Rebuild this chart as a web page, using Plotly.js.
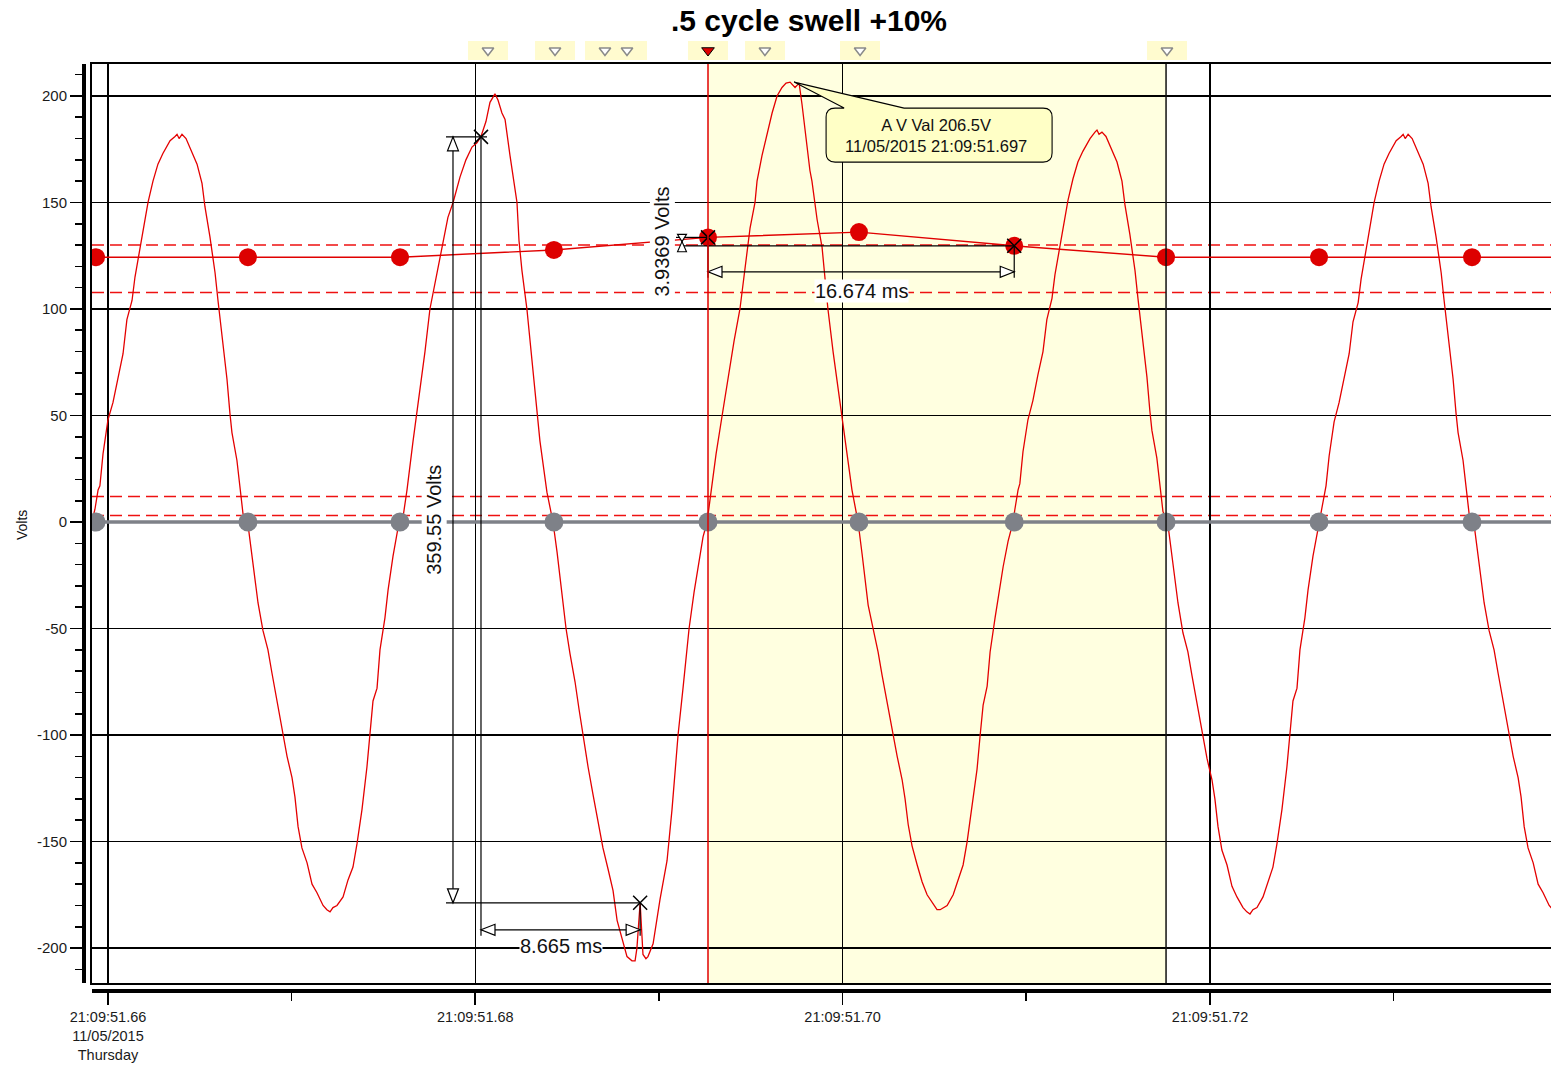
<!DOCTYPE html>
<html>
<head>
<meta charset="utf-8">
<script src="https://cdn.plot.ly/plotly-3.0.1.min.js"></script>
<style>
  html, body { margin: 0; padding: 0; background: #ffffff; }
  #chart { width: 1551px; height: 1066px; }
</style>
</head>
<body>
<div id="chart"></div>
<script>
// ---- Waveform: phase A voltage, time in ms after 21:09:51 ----
const waveTime = [
  659.18, 659.29, 659.46, 659.56, 659.73, 660.00, 660.27, 660.54, 660.82, 661.03, 661.31, 661.47, 661.74, 661.91, 662.18, 662.45, 662.72, 662.99, 663.38, 663.65, 663.76, 663.87, 664.03, 664.25, 664.46, 664.85, 665.12, 665.28, 665.55, 665.83, 665.99, 666.21, 666.48, 666.64, 666.75, 667.02, 667.19, 667.35, 667.62,
  667.84, 668.00, 668.17, 668.44, 668.71, 668.93, 669.20, 669.47, 669.75, 670.02, 670.18, 670.35, 670.56, 670.84, 671.11, 671.38, 671.71, 671.92, 672.09, 672.25, 672.47, 672.80, 673.07, 673.34, 673.56, 673.83, 674.10, 674.27, 674.43, 674.65, 674.81, 675.08, 675.25, 675.52, 675.85,
  676.06, 676.28, 676.61, 676.88, 677.26, 677.53, 677.86, 678.19, 678.51, 678.79, 679.17, 679.49, 679.82, 680.09, 680.31, 680.58, 680.80, 681.07, 681.24, 681.45, 681.62, 681.89, 682.11, 682.27, 682.38, 682.54, 682.81, 683.09, 683.36, 683.52, 683.90, 684.23,
  684.45, 684.72, 684.94, 685.16, 685.43, 685.65, 685.86, 686.14, 686.41, 686.68, 686.95, 687.23, 687.50, 687.72, 687.99, 688.26, 688.53, 688.70, 688.80, 688.975, 689.13, 689.29, 689.40, 689.68, 690.06, 690.44, 690.71, 691.04, 691.31, 691.64, 691.91, 692.18, 692.40, 692.62,
  692.83, 693.11, 693.44, 693.76, 694.09, 694.41, 694.68, 694.96, 695.23, 695.34, 695.61, 695.88, 696.16, 696.43, 696.70, 696.92, 697.14, 697.41, 697.63, 697.79, 698.01, 698.22, 698.33, 698.61, 698.88, 699.20, 699.48, 699.75, 699.97, 700.24, 700.51, 700.84,
  701.06, 701.22, 701.39, 701.66, 701.93, 702.15, 702.42, 702.69, 702.97, 703.24, 703.40, 703.57, 703.78, 704.06, 704.33, 704.60, 704.93, 705.14, 705.31, 705.47, 705.69, 706.02, 706.29, 706.56, 706.78, 707.05, 707.32, 707.49, 707.65, 707.87, 708.03, 708.30, 708.47, 708.74, 709.01, 709.28,
  709.38, 709.55, 709.65, 709.82, 710.09, 710.36, 710.63, 710.91, 711.12, 711.40, 711.56, 711.83, 712.00, 712.27, 712.54, 712.81, 713.08, 713.47, 713.74, 713.85, 713.96, 714.12, 714.34, 714.55, 714.94, 715.21, 715.37, 715.64, 715.92, 716.08, 716.30, 716.57, 716.73, 716.84, 717.11, 717.28, 717.44, 717.71,
  717.93, 718.09, 718.26, 718.53, 718.80, 719.02, 719.29, 719.56, 719.84, 720.11, 720.27, 720.44, 720.65, 720.93, 721.20, 721.47, 721.80, 722.01, 722.18, 722.34, 722.56, 722.89, 723.16, 723.43, 723.65, 723.92, 724.19, 724.36, 724.52, 724.74, 724.90, 725.17, 725.34, 725.61, 725.94,
  726.05, 726.22, 726.32, 726.49, 726.76, 727.03, 727.30, 727.58, 727.79, 728.07, 728.23, 728.50, 728.67, 728.94, 729.21, 729.48, 729.75, 730.14, 730.41, 730.52, 730.63, 730.79, 731.01, 731.22, 731.61, 731.88, 732.04, 732.31, 732.59, 732.75, 732.97, 733.24, 733.40, 733.51, 733.78, 733.95, 734.11, 734.38,
  734.60, 734.76, 734.93, 735.20, 735.47, 735.69, 735.96, 736.23, 736.51, 736.78, 736.94, 737.11, 737.32, 737.60, 737.87, 738.14, 738.47, 738.68
];
const waveVolts = [
  2, 6, 15, 17, 32, 48, 56, 68, 79, 95, 104, 115, 129, 137, 150, 160, 168, 173, 179, 181, 182, 180, 182, 180, 176, 168, 159, 148, 134, 117, 104, 87, 67, 51, 42, 29, 16, 4, -1,
  -16, -27, -38, -51, -60, -71, -84, -98, -110, -120, -129, -143, -153, -160, -170, -174, -180, -182, -183, -181, -180, -176, -168, -162, -151, -135, -115, -99, -84, -78, -60, -45, -32, -16, 0,
  2, 15, 38, 55, 80, 100, 115, 130, 143, 150, 162, 170, 176, 178, 181, 188, 197, 201, 198, 192, 189, 172, 160, 150, 132, 118, 100, 75, 50, 38, 14, 0,
  -14, -35, -50, -62, -75, -88, -100, -115, -128, -140, -153, -163, -173, -187, -195, -204, -206, -206, -200, -178.75, -203, -205, -204, -198, -177, -159, -135, -100, -78, -50, -33, -18, -7, 0,
  14, 32, 50, 68, 85, 100, 118, 138, 150, 160, 172, 182, 192, 200, 204, 206, 206.5, 204, 206, 196, 180, 165, 160, 142, 129, 100, 80, 62, 50, 32, 15, 0,
  -15, -26, -39, -50, -61, -72, -85, -97, -110, -121, -130, -142, -152, -161, -169, -175, -179, -182, -182, -181, -180, -175, -168, -161, -150, -134, -116, -100, -86, -77, -61, -45, -35, -21, -9, 0,
  6, 15, 18, 33, 48, 57, 69, 80, 95, 105, 116, 130, 138, 151, 161, 169, 174, 180, 183, 184, 182, 183, 181, 177, 169, 160, 149, 135, 118, 105, 88, 68, 52, 43, 30, 17, 5, -1,
  -16, -28, -38, -52, -61, -72, -85, -98, -111, -121, -130, -143, -154, -161, -171, -176, -181, -183, -184, -182, -181, -176, -169, -162, -151, -135, -115, -99, -84, -78, -60, -45, -32, -16, 0,
  5, 14, 17, 31, 47, 56, 67, 79, 94, 103, 114, 128, 137, 150, 160, 168, 173, 179, 181, 182, 180, 182, 180, 176, 168, 159, 148, 134, 117, 104, 87, 67, 51, 42, 29, 16, 4, -1,
  -16, -27, -38, -51, -60, -71, -84, -98, -110, -120, -129, -143, -153, -160, -170, -174, -180, -182
];

// ---- Half-cycle RMS values, plotted at each zero crossing ----
const crossTimes = [659.35, 667.62, 675.90, 684.28, 692.67, 700.89, 709.344, 717.61, 725.94, 734.27, 742.60];
const rmsVolts   = [124.3, 124.3, 124.3, 127.7, 133.6, 136.1, 129.6631, 124.3, 124.3, 124.3, 124.3];
const zeroVolts  = [0, 0, 0, 0, 0, 0, 0, 0, 0, 0, 0];

// ---- Event limits (V) ----
const limitLevels = [130.0, 107.7, 12.0, 3.0];

// ---- Event markers along the top, cursor and highlighted event window ----
const eventTimes = [680.69, 684.34, 687.06, 688.26, 695.77, 700.95, 717.66];
const cursorTime = 692.67;
const eventWindow = [692.67, 717.61];

// ---- Measurement cursors ----
const measA = { t: 680.31, v: 180.8 };
const measB = { t: 688.975, v: -178.75 };
const measC = { t: 692.67, v: 133.6 };
const measD = { t: 709.344, v: 129.6631 };

// ---- Axis ticks ----
const tickTimes = [660, 680, 700, 720];
const tickLabels = ['21:09:51.66<br>11/05/2015<br>Thursday', '21:09:51.68', '21:09:51.70', '21:09:51.72'];
const minorTickTimes = [670, 690, 710, 730];
const voltTicks = [-200, -150, -100, -50, 0, 50, 100, 150, 200];
const voltTickLabels = ['-200', '-150', '-100', '-50', '0', '50', '100', '150', '200'];

// ---- Geometry helpers ----
const W = 1551, H = 1066;
const PL = 92, PR = 1551, PT = 64, PB = 983;
const T_RANGE = [659.13, 738.57];
const V_RANGE = [-216.4, 215.0];
const MS_PER_PX = (T_RANGE[1] - T_RANGE[0]) / (PR - PL);
const V_PER_PX = (V_RANGE[1] - V_RANGE[0]) / (PB - PT);
const FONT = 'Liberation Sans, Arial, Helvetica, sans-serif';

// offset a data point by screen pixels (dy positive = downward)
function off(t, v, dx, dy) { return [t + dx * MS_PER_PX, v - dy * V_PER_PX]; }
function pathOf(pts, close) {
  return pts.map((p, i) => (i ? 'L' : 'M') + p[0] + ',' + p[1]).join(' ') + (close ? ' Z' : '');
}
const shapes = [];
function seg(t0, v0, t1, v1, color, width) {
  shapes.push({ type: 'line', xref: 'x', yref: 'y', x0: t0, y0: v0, x1: t1, y1: v1,
    line: { color: color || '#000', width: width || 1.2 }, layer: 'above' });
}
function arrowHead(t, v, dir, len, half) {
  len = len || 14; half = half || 5.5;
  let pts;
  if (dir === 'up') pts = [[t, v], off(t, v, -half, len), off(t, v, half, len)];
  else if (dir === 'down') pts = [[t, v], off(t, v, -half, -len), off(t, v, half, -len)];
  else if (dir === 'left') pts = [[t, v], off(t, v, len, -half), off(t, v, len, half)];
  else pts = [[t, v], off(t, v, -len, -half), off(t, v, -len, half)];
  shapes.push({ type: 'path', xref: 'x', yref: 'y', path: pathOf(pts, true),
    fillcolor: '#ffffff', line: { color: '#000', width: 1.2 }, layer: 'above' });
}

// highlighted event window and limit lines (beneath the grid)
shapes.push({ type: 'rect', xref: 'x', yref: 'y domain', x0: eventWindow[0], x1: eventWindow[1], y0: 0, y1: 1,
  fillcolor: '#ffffe0', line: { width: 0 }, layer: 'below' });
limitLevels.forEach(lv => shapes.push({ type: 'line', xref: 'x domain', yref: 'y', x0: 0, x1: 1, y0: lv, y1: lv,
  line: { color: '#ee1111', width: 1.5, dash: '12px,6px' }, layer: 'below' }));

// window edge
shapes.push({ type: 'line', xref: 'x', yref: 'y domain', x0: eventWindow[1], x1: eventWindow[1], y0: 0, y1: 1,
  line: { color: '#111', width: 1.5 }, layer: 'above' });

// 359.55 V dimension
const tDim1 = measA.t - 28 * MS_PER_PX;
seg(tDim1, measA.v, tDim1, measB.v);
arrowHead(tDim1, measA.v, 'up');
arrowHead(tDim1, measB.v, 'down');
seg(tDim1 - 7 * MS_PER_PX, measA.v, measA.t + 6 * MS_PER_PX, measA.v);
seg(tDim1 - 7 * MS_PER_PX, measB.v, measB.t, measB.v);

// 8.665 ms dimension
const vLev1 = measB.v - 27 * V_PER_PX;
seg(measA.t, vLev1, measB.t, vLev1);
arrowHead(measA.t, vLev1, 'left');
arrowHead(measB.t, vLev1, 'right');
seg(measA.t, measA.v, measA.t, vLev1 - 6 * V_PER_PX);
seg(measB.t, measB.v, measB.t, vLev1 - 6 * V_PER_PX);

// 16.674 ms dimension
const vLev2 = measD.v - 26 * V_PER_PX;
seg(measC.t, vLev2, measD.t, vLev2);
arrowHead(measC.t, vLev2, 'left');
arrowHead(measD.t, vLev2, 'right');
seg(measD.t, measD.v, measD.t, vLev2 - 6 * V_PER_PX);
seg(measC.t, measC.v, measC.t, vLev2 - 6 * V_PER_PX);

// 3.9369 V dimension
const tDim2 = measC.t - 26 * MS_PER_PX;
const vMid2 = (measC.v + measD.v) / 2;
seg(tDim2 - 6 * MS_PER_PX, measC.v, measC.t, measC.v);
seg(tDim2 - 2 * MS_PER_PX, measD.v, measD.t, measD.v);
seg(tDim2, measC.v, tDim2, measD.v);
shapes.push({ type: 'path', xref: 'x', yref: 'y', layer: 'above', fillcolor: '#ffffff', line: { color: '#000', width: 1.1 },
  path: pathOf([[tDim2, vMid2], off(tDim2, measC.v, -4.5, -3), off(tDim2, measC.v, 4.5, -3)], true) });
shapes.push({ type: 'path', xref: 'x', yref: 'y', layer: 'above', fillcolor: '#ffffff', line: { color: '#000', width: 1.1 },
  path: pathOf([[tDim2, vMid2], off(tDim2, measD.v, -4.5, 6), off(tDim2, measD.v, 4.5, 6)], true) });

// cursor line
shapes.push({ type: 'line', xref: 'x', yref: 'y domain', x0: cursorTime, x1: cursorTime, y0: 0, y1: 1,
  line: { color: '#e00000', width: 1.5 }, layer: 'above' });

// peak call-out bubble
let peakIdx = 0;
waveVolts.forEach((v, i) => { if (v > waveVolts[peakIdx]) peakIdx = i; });
const peakT = waveTime[peakIdx], peakV = waveVolts[peakIdx];
const bx0 = 32, bx1 = 258, by0 = 26, by1 = 80, r = 9;
const P = (dx, dy) => off(peakT, peakV, dx + 4, dy);
shapes.push({ type: 'path', xref: 'x', yref: 'y', layer: 'above', fillcolor: '#ffffc6', line: { color: '#000', width: 1.1 },
  path: 'M' + P(0, 0).join(',') +
    ' L' + P(110, by0).join(',') +
    ' L' + P(bx1 - r, by0).join(',') + ' Q' + P(bx1, by0).join(',') + ' ' + P(bx1, by0 + r).join(',') +
    ' L' + P(bx1, by1 - r).join(',') + ' Q' + P(bx1, by1).join(',') + ' ' + P(bx1 - r, by1).join(',') +
    ' L' + P(bx0 + r, by1).join(',') + ' Q' + P(bx0, by1).join(',') + ' ' + P(bx0, by1 - r).join(',') +
    ' L' + P(bx0, by0 + r).join(',') + ' Q' + P(bx0, by0).join(',') + ' ' + P(bx0 + r, by0).join(',') +
    ' L' + P(50, by0).join(',') + ' Z' });

// ---- Traces ----
const traces = [
  { x: waveTime, y: waveVolts, type: 'scatter', mode: 'lines', xaxis: 'x', yaxis: 'y',
    line: { color: '#e40000', width: 1.3 }, hoverinfo: 'skip' },
  { x: crossTimes, y: rmsVolts, type: 'scatter', mode: 'lines+markers', xaxis: 'x', yaxis: 'y',
    line: { color: '#e00000', width: 1.4 }, marker: { color: '#dd0000', size: 18 }, hoverinfo: 'skip' },
  { x: crossTimes, y: zeroVolts, type: 'scatter', mode: 'lines+markers', xaxis: 'x2', yaxis: 'y2',
    line: { color: '#7e8188', width: 3.5 }, marker: { color: '#7e8188', size: 19 }, hoverinfo: 'skip' },
  { x: [measA.t, measB.t, measC.t, measD.t], y: [measA.v, measB.v, measC.v, measD.v], type: 'scatter', mode: 'markers',
    xaxis: 'x2', yaxis: 'y2', marker: { symbol: 'x-thin', size: 14, line: { color: '#000', width: 1.5 } }, hoverinfo: 'skip' },
  // event strip above the plot
  { x: eventTimes.concat([cursorTime]), y: eventTimes.concat([cursorTime]).map(() => 1), base: 0, type: 'bar',
    xaxis: 'x3', yaxis: 'y3', width: 2.2, marker: { color: '#fffbcf', line: { width: 0 } }, hoverinfo: 'skip' },
  { x: eventTimes, y: eventTimes.map(() => 0.5), type: 'scatter', mode: 'markers', xaxis: 'x3', yaxis: 'y3',
    marker: { symbol: 'triangle-down', size: 10, color: '#ffffff', line: { color: '#8a8a8a', width: 1.5 } }, hoverinfo: 'skip' },
  { x: [cursorTime], y: [0.5], type: 'scatter', mode: 'markers', xaxis: 'x3', yaxis: 'y3',
    marker: { symbol: 'triangle-down', size: 11, color: '#e00000', line: { color: '#000', width: 1 } }, hoverinfo: 'skip' }
];

// ---- Text ----
const ann = (o) => Object.assign({ showarrow: false, xref: 'x', yref: 'y', font: { family: FONT, size: 20, color: '#111' } }, o);
const annotations = [
  ann({ x: tDim1 - 19 * MS_PER_PX, y: (measA.v + measB.v) / 2, textangle: -90, bgcolor: '#ffffff', borderpad: 1,
        text: (measA.v - measB.v).toFixed(2) + ' Volts' }),
  ann({ x: (measA.t + measB.t) / 2, y: vLev1 - 16 * V_PER_PX, bgcolor: '#ffffff', borderpad: 0,
        text: (measB.t - measA.t).toFixed(3) + ' ms' }),
  ann({ x: (measC.t + measD.t) / 2, y: vLev2 - 19 * V_PER_PX, bgcolor: '#ffffff', borderpad: 0,
        text: (measD.t - measC.t).toFixed(3) + ' ms' }),
  ann({ x: measC.t - 46 * MS_PER_PX, y: vMid2, textangle: -90, bgcolor: '#ffffff', borderpad: 1,
        text: (measC.v - measD.v).toFixed(4) + ' Volts' }),
  ann({ x: off(peakT, peakV, 146, 0)[0], y: off(peakT, peakV, 0, 53)[1],
        font: { family: FONT, size: 16.5, color: '#111' },
        text: 'A V Val ' + peakV.toFixed(1) + 'V<br>11/05/2015 21:09:51.' + peakT.toFixed(0) }),
  { xref: 'paper', yref: 'paper', x: 22 / W, y: 1 - 525 / H, xanchor: 'center', yanchor: 'middle',
    text: 'Volts', textangle: -90, showarrow: false, font: { family: FONT, size: 14, color: '#111' } }
];

const xDomain = [PL / W, 1];
const yDomain = [1 - PB / H, 1 - PT / H];

const layout = {
  width: W, height: H,
  margin: { l: 0, r: 0, t: 0, b: 0, pad: 0 },
  paper_bgcolor: '#ffffff', plot_bgcolor: 'rgba(0,0,0,0)',
  showlegend: false, hovermode: false, bargap: 0,
  font: { family: FONT, size: 14, color: '#1a1a1a' },
  title: { text: '<b>.5 cycle swell +10%</b>', x: 809 / W, y: 1 - 20 / H, xref: 'paper', yref: 'paper',
           xanchor: 'center', yanchor: 'middle', font: { family: FONT, size: 30, color: '#000' } },
  xaxis: { domain: xDomain, range: T_RANGE, anchor: 'y', tickmode: 'array', tickvals: tickTimes,
           showticklabels: false, ticks: '', showgrid: true, gridcolor: '#000', gridwidth: 1.2,
           zeroline: false, showline: true, mirror: true, linecolor: '#000', linewidth: 2 },
  yaxis: { domain: yDomain, range: V_RANGE, anchor: 'x', tickmode: 'array', tickvals: voltTicks,
           showticklabels: false, ticks: '', showgrid: true, gridcolor: '#000', gridwidth: 1.2,
           zeroline: false, showline: true, mirror: false, linecolor: '#000', linewidth: 2 },
  xaxis2: { overlaying: 'x', anchor: 'free', position: 1 - 991 / H, side: 'bottom', domain: xDomain, range: T_RANGE,
            tickmode: 'array', tickvals: tickTimes, ticktext: tickLabels, ticklabelstandoff: 0,
            ticks: 'outside', ticklen: 12, tickwidth: 1.6, tickcolor: '#000',
            showline: true, linewidth: 4, linecolor: '#000', showgrid: false, zeroline: false,
            tickfont: { family: FONT, size: 14.5, color: '#1a1a1a' },
            minor: { tickmode: 'array', tickvals: minorTickTimes, ticks: 'outside', ticklen: 8, tickwidth: 1.6, tickcolor: '#000', showgrid: false } },
  yaxis2: { overlaying: 'y', anchor: 'free', position: 84 / W, side: 'left', domain: yDomain, range: V_RANGE,
            tickmode: 'array', tickvals: voltTicks, ticktext: voltTickLabels,
            ticks: 'outside', ticklen: 12, tickwidth: 1.6, tickcolor: '#000',
            showline: true, linewidth: 4, linecolor: '#000', showgrid: false, zeroline: false,
            tickfont: { family: FONT, size: 15, color: '#1a1a1a' },
            minor: { tick0: 0, dtick: 10, ticks: 'outside', ticklen: 7, tickwidth: 1.6, tickcolor: '#000', showgrid: false } },
  xaxis3: { domain: xDomain, range: T_RANGE, anchor: 'y3', visible: false, showgrid: false, zeroline: false },
  yaxis3: { domain: [1 - 60 / H, 1 - 41 / H], range: [0, 1], anchor: 'x3', visible: false, showgrid: false, zeroline: false },
  shapes: shapes,
  annotations: annotations
};

Plotly.newPlot('chart', traces, layout, { staticPlot: true, displayModeBar: false });
</script>
</body>
</html>
